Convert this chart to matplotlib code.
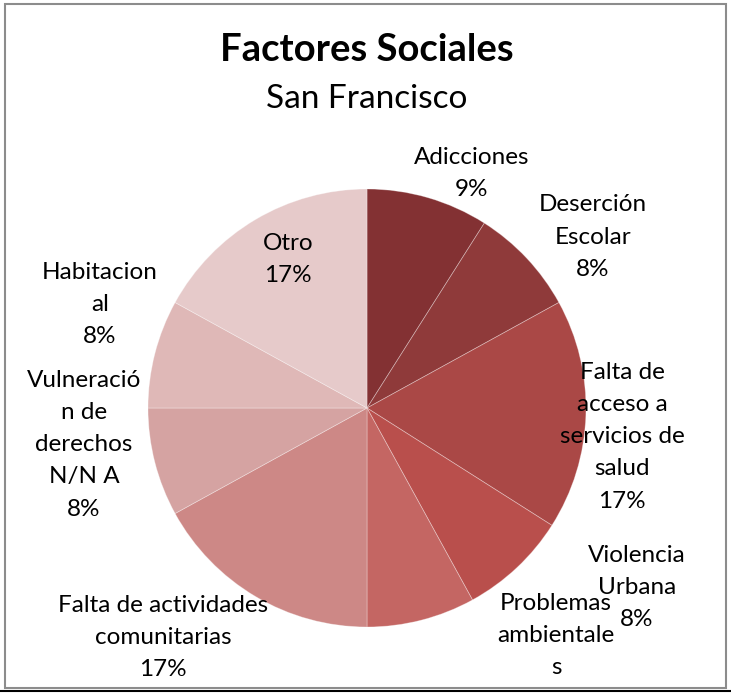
import matplotlib
matplotlib.use("Agg")
import matplotlib.pyplot as plt
from matplotlib.patches import Rectangle
from matplotlib.lines import Line2D

categories = ["Adicciones", "Deserción Escolar", "Falta de acceso a servicios de salud",
              "Violencia Urbana", "Problemas ambientales",
              "Falta de actividades comunitarias", "Vulneración de derechos N/N A",
              "Habitacional", "Otro"]
values = [9, 8, 17, 8, 8, 17, 8, 8, 17]
label_lines = [["Adicciones"], ["Deserción", "Escolar"],
               ["Falta de", "acceso a", "servicios de", "salud"],
               ["Violencia", "Urbana"], ["Problemas", "ambientale", "s"],
               ["Falta de actividades", "comunitarias"],
               ["Vulneració", "n de", "derechos", "N/N A"],
               ["Habitacion", "al"], ["Otro"]]
show_pct = [True, True, True, True, False, True, True, True, True]
colors = ["#833133", "#8f3a3a", "#aa4846", "#b94f4c", "#c46663",
          "#cd8886", "#d5a3a2", "#dfb8b7", "#e6caca"]

W, H = 731, 695
fig = plt.figure(figsize=(W / 100, H / 100), dpi=100)
FONT = ["Lato", "DejaVu Sans"]

cx, cy, r = 367, 408, 219
ax = fig.add_axes([(cx - r) / W, 1 - (cy + r) / H, 2 * r / W, 2 * r / H])
ax.pie(values, colors=colors, startangle=90, counterclock=False,
       wedgeprops=dict(edgecolor=(1, 1, 1, 0.35), linewidth=0.6))
ax.set_xlim(-1, 1)
ax.set_ylim(-1, 1)
ax.set_aspect("auto")
ax.axis("off")

# label anchor (center x, y of first line) in pixels
anchors = [(472, 157), (593, 205), (622, 372), (637, 555), (556, 603),
           (163, 605), (84, 380), (100, 272), (288, 243)]
line_px = 32.3
for lines, pct, v, (x, y) in zip(label_lines, show_pct, values, anchors):
    texts = list(lines) + ([f"{v}%"] if pct else [])
    for i, t in enumerate(texts):
        fig.text(x / W, 1 - (y + i * line_px) / H, t, ha="center", va="center",
                 fontsize=17.5, family=FONT, color="black")

fig.text(367 / W, 1 - 50 / H, "Factores Sociales", ha="center", va="center",
         fontsize=27.5, fontweight="bold", family=FONT)
fig.text(367 / W, 1 - 99 / H, "San Francisco", ha="center", va="center",
         fontsize=24, family=FONT)

fig.patches.append(Rectangle((5 / W, 1 - 688 / H), (726 - 5) / W, (688 - 4) / H,
                             transform=fig.transFigure, fill=False,
                             edgecolor="#8c8c8c", linewidth=1.5))
fig.lines.append(Line2D([0, 1], [1 - 691 / H, 1 - 691 / H], transform=fig.transFigure,
                        color="black", linewidth=1.5))

fig.savefig("out.png", dpi=100)
